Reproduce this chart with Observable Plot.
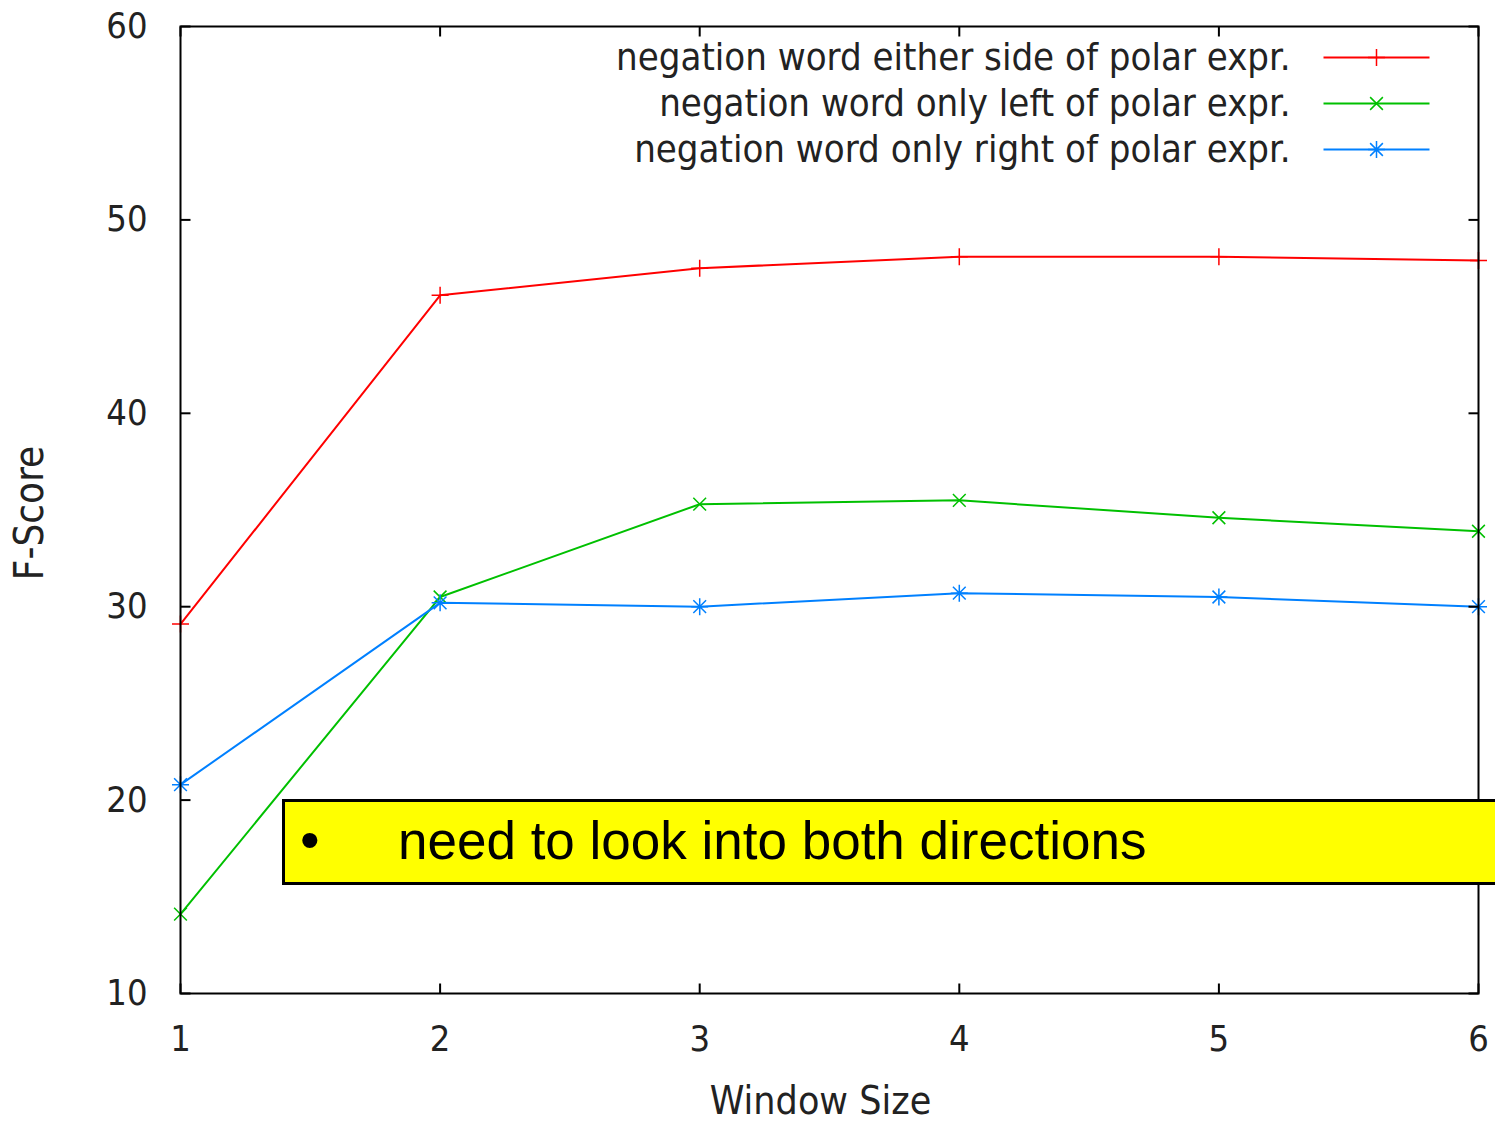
<!DOCTYPE html>
<html>
<head>
<meta charset="utf-8">
<script src="https://cdn.jsdelivr.net/npm/d3@7"></script>
<script src="https://cdn.jsdelivr.net/npm/@observablehq/plot@0.6"></script>
<style>
  html, body { margin: 0; padding: 0; background: #fff; overflow: hidden; }
  #wrap { position: relative; width: 1495px; height: 1123px; }
  #note {
    position: absolute; left: 282px; top: 799px; width: 1260px; height: 80px;
    background: #ffff00; border: 3px solid #000; box-sizing: content-box;
    font-family: "Liberation Sans", Arial, sans-serif; font-size: 53px; color: #000;
  }
  #note .bullet { position: absolute; left: 15px; top: 5px; font-size: 56px; }
  #note .txt { position: absolute; left: 113px; top: 8px; }
</style>
</head>
<body>
<div id="wrap">
  <div id="chart"></div>
  <div id="note"><span class="bullet">•</span><span class="txt">need to look into both directions</span></div>
</div>
<script>
// Window sizes on the x axis
const windowSizes = [1, 2, 3, 4, 5, 6];

// F-score for each negation-scope setting
const eitherSide = [29.1, 46.1, 47.5, 48.1, 48.1, 47.9];
const onlyLeft   = [14.1, 30.5, 35.3, 35.5, 34.6, 33.9];
const onlyRight  = [20.8, 30.2, 30.0, 30.7, 30.5, 30.0];

const seriesNames = [
  "negation word either side of polar expr.",
  "negation word only left of polar expr.",
  "negation word only right of polar expr."
];
const seriesColors = ["#ff0000", "#00c000", "#0080ff"];

const xTicks = [1, 2, 3, 4, 5, 6];
const yTicks = [10, 20, 30, 40, 50, 60];

// Gnuplot-style point glyphs; arm length follows the dot radius
const armOf = size => Math.sqrt(size / Math.PI);
const symPlus = { draw(c, s) { const a = armOf(s); c.moveTo(-a, 0); c.lineTo(a, 0); c.moveTo(0, -a); c.lineTo(0, a); } };
const symTimes = { draw(c, s) { const a = armOf(s) * 0.75; c.moveTo(-a, -a); c.lineTo(a, a); c.moveTo(-a, a); c.lineTo(a, -a); } };
const symStar = { draw(c, s) { symPlus.draw(c, s); symTimes.draw(c, s); } };
const seriesSymbols = [[symPlus], [symTimes], [symStar]];

// Inward tick marks for the boxed frame
const tickLen = 10;
const tickUp    = { draw(c) { c.moveTo(0, 0); c.lineTo(0, -tickLen); } };
const tickDown  = { draw(c) { c.moveTo(0, 0); c.lineTo(0, tickLen); } };
const tickRight = { draw(c) { c.moveTo(0, 0); c.lineTo(tickLen, 0); } };
const tickLeft  = { draw(c) { c.moveTo(0, 0); c.lineTo(-tickLen, 0); } };
// Legend sample line
const legendLine = { draw(c) { c.moveTo(-53, 0); c.lineTo(53, 0); } };

const data = [];
[eitherSide, onlyLeft, onlyRight].forEach((vals, i) => {
  vals.forEach((v, j) => data.push({ series: seriesNames[i], idx: i, x: windowSizes[j], y: v }));
});

const font = "'DejaVu Sans Condensed', 'DejaVu Sans', sans-serif";
const textColor = "#222";

const marks = [];

// series lines and points
seriesNames.forEach((name, i) => {
  const rows = data.filter(d => d.idx === i);
  marks.push(Plot.line(rows, { x: "x", y: "y", stroke: seriesColors[i], strokeWidth: 2 }));
  seriesSymbols[i].forEach(sym => {
    marks.push(Plot.dot(rows, { x: "x", y: "y", r: 8.5, symbol: sym, stroke: seriesColors[i], strokeWidth: 1.5, fill: "none" }));
  });
});

// frame and inward ticks on all four sides
marks.push(Plot.frame({ stroke: "#000", strokeWidth: 2 }));
marks.push(Plot.dot(xTicks, { x: d => d, y: 10, r: 5, symbol: tickUp, stroke: "#000", strokeWidth: 2 }));
marks.push(Plot.dot(xTicks, { x: d => d, y: 60, r: 5, symbol: tickDown, stroke: "#000", strokeWidth: 2 }));
marks.push(Plot.dot(yTicks, { x: 1, y: d => d, r: 5, symbol: tickRight, stroke: "#000", strokeWidth: 2 }));
marks.push(Plot.dot(yTicks, { x: 6, y: d => d, r: 5, symbol: tickLeft, stroke: "#000", strokeWidth: 2 }));

// tick labels
marks.push(Plot.text(xTicks, { x: d => d, y: 10, text: d => String(d), dy: 46, fontSize: 36, fill: textColor, fontFamily: font, textAnchor: "middle", lineAnchor: "middle" }));
marks.push(Plot.text(yTicks, { x: 1, y: d => d, text: d => String(d), dx: -33, fontSize: 36, fill: textColor, fontFamily: font, textAnchor: "end", lineAnchor: "middle" }));

// axis titles
marks.push(Plot.text(["Window Size"], { frameAnchor: "bottom", dx: -9, dy: 108, fontSize: 39, fill: textColor, fontFamily: font, textAnchor: "middle", lineAnchor: "middle" }));
marks.push(Plot.text(["F-Score"], { frameAnchor: "left", dx: -150, dy: 3, rotate: -90, fontSize: 40, fill: textColor, fontFamily: font, textAnchor: "middle", lineAnchor: "middle" }));

// legend, top-right inside the frame
seriesNames.forEach((name, i) => {
  const dy = 31 + 46 * i;
  marks.push(Plot.text([name], { frameAnchor: "top-right", dx: -188, dy, textAnchor: "end", lineAnchor: "middle", fontSize: 38, fill: textColor, fontFamily: font }));
  marks.push(Plot.dot([name], { frameAnchor: "top-right", dx: -102, dy, r: 5, symbol: legendLine, stroke: seriesColors[i], strokeWidth: 2 }));
  seriesSymbols[i].forEach(sym => {
    marks.push(Plot.dot([name], { frameAnchor: "top-right", dx: -102, dy, r: 8.5, symbol: sym, stroke: seriesColors[i], strokeWidth: 1.5 }));
  });
});

const chart = Plot.plot({
  width: 1495,
  height: 1123,
  marginLeft: 180,
  marginRight: 17,
  marginTop: 26,
  marginBottom: 130,
  style: { background: "#fff", overflow: "visible" },
  x: { domain: [1, 6], axis: null },
  y: { domain: [10, 60], axis: null },
  marks
});

document.getElementById("chart").appendChild(chart);
</script>
</body>
</html>
